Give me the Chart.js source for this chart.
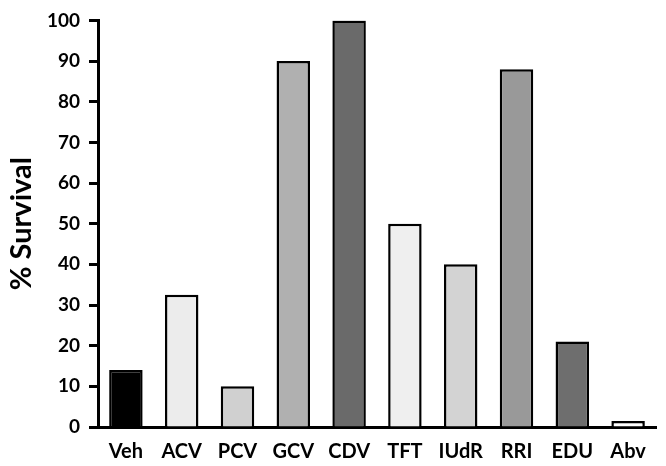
<!DOCTYPE html>
<html>
<head>
<meta charset="utf-8">
<title>% Survival</title>
<script src="https://cdn.jsdelivr.net/npm/chart.js"></script>
<style>
  html, body { margin: 0; padding: 0; background: #fff; }
  #wrap { width: 666px; height: 466px; }
</style>
</head>
<body>
<div id="wrap"><canvas id="chart" width="666" height="466"></canvas></div>
<script>
const labels = ["Veh", "ACV", "PCV", "GCV", "CDV", "TFT", "IUdR", "RRI", "EDU", "Abv"];
const survival = [14, 32.5, 10, 90, 100, 50, 40, 88, 21, 1.5];
const barColors = ["#000000", "#ececec", "#d0d0d0", "#b0b0b0", "#6a6a6a",
                   "#efefef", "#d3d3d3", "#999999", "#6e6e6e", "#ffffff"];

const font = "Lato, 'Open Sans', sans-serif";

new Chart(document.getElementById("chart").getContext("2d"), {
  type: "bar",
  data: {
    labels,
    datasets: [{
      data: survival,
      backgroundColor: barColors,
      borderColor: "#000",
      borderWidth: 2.5,
      barPercentage: 0.6,
      categoryPercentage: 1
    }]
  },
  options: {
    responsive: false,
    animation: false,
    layout: { padding: { top: 4, right: 10, left: 0, bottom: 0 } },
    plugins: { legend: { display: false }, tooltip: { enabled: false } },
    scales: {
      x: {
        afterFit: s => { s.height = 39; },
        grid: { display: false },
        border: { display: true, color: "#000", width: 3 },
        ticks: { color: "#000", padding: 5, font: { family: font, size: 20, weight: "bold" } }
      },
      y: {
        min: 0,
        max: 100,
        afterFit: s => { s.width = 98; },
        grid: { drawOnChartArea: false, drawTicks: true, tickLength: 9, tickWidth: 3, tickColor: "#000" },
        border: { display: true, color: "#000", width: 3 },
        ticks: { stepSize: 10, color: "#000", padding: 9, font: { family: font, size: 19, weight: "bold" } },
        title: {
          display: true,
          text: "% Survival",
          color: "#000",
          padding: { top: 4, bottom: 0 },
          font: { family: font, size: 29, weight: "bold" }
        }
      }
    }
  }
});
</script>
</body>
</html>
